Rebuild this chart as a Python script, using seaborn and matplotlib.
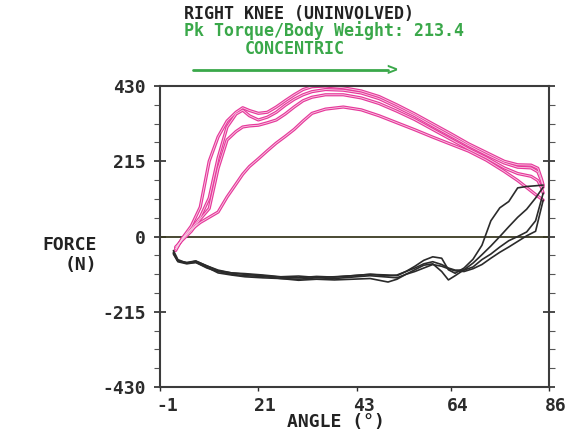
import matplotlib.pyplot as plt
import matplotlib.transforms as mtransforms
from matplotlib.ticker import MultipleLocator
import pandas as pd
import seaborn as sns

# extension (concentric) reps - pink
ext_angle = [2.5, 4, 6, 8, 10, 12, 14, 16, 17.5, 19, 21, 23, 25, 27, 29, 31, 33,
             36, 40, 44, 48, 52, 56, 60, 64, 68, 72, 76, 79, 82, 83.5, 84.3, 84.7]
ext_rep1 = [-40, -5, 30, 84, 215, 285, 330, 355, 368, 360, 352, 355, 370, 388, 405, 420, 428,
            430, 425, 416, 400, 376, 350, 322, 294, 265, 240, 215, 205, 204, 195, 165, 147]
ext_rep2 = [-35, -8, 22, 55, 110, 225, 313, 350, 361, 345, 333, 341, 355, 375, 392, 405, 414,
            420, 418, 410, 394, 370, 345, 316, 288, 260, 234, 210, 198, 196, 185, 160, 141]
ext_rep3 = [-30, -10, 15, 50, 80, 195, 276, 300, 313, 316, 318, 325, 333, 350, 370, 388, 398,
            405, 405, 396, 380, 358, 334, 306, 278, 250, 225, 196, 180, 172, 160, 140, 124]
ext_rep4 = [-35, -5, 20, 40, 55, 70, 113, 150, 178, 200, 222, 245, 267, 286, 306, 330, 352,
            364, 370, 362, 345, 325, 305, 284, 264, 244, 218, 186, 160, 130, 115, 108, 104]

# flexion return reps - black
flex_angle = [84.7, 83, 81, 79, 77, 75, 73, 71, 69, 67, 65, 63.5, 62, 60, 58, 56, 54,
              52, 50, 46, 42, 38, 34, 30, 26, 22, 18, 15, 12, 9.5, 7, 5, 3, 2]
flex_rep1 = [147, 145, 143, 139, 100, 82, 45, -25, -65, -90, -105, -95, -62, -58, -68, -85, -100,
             -110, -112, -108, -112, -116, -114, -118, -116, -112, -108, -104, -98, -84, -70, -74, -70, -45]
flex_rep2 = [141, 110, 78, 55, 28, 0, -27, -52, -76, -95, -112, -124, -100, -78, -82, -95, -108,
             -122, -130, -120, -122, -124, -122, -125, -120, -118, -115, -110, -104, -88, -74, -78, -72, -50]
flex_rep3 = [124, 45, 13, 0, -12, -30, -50, -66, -87, -96, -96, -90, -80, -72, -78, -90, -100,
             -112, -110, -108, -112, -115, -117, -113, -115, -110, -106, -104, -96, -84, -70, -76, -66, -40]
flex_rep4 = [104, 15, 2, -14, -30, -45, -62, -80, -92, -100, -98, -92, -85, -80, -90, -100, -108,
             -118, -116, -112, -116, -120, -118, -122, -120, -114, -112, -108, -100, -90, -74, -76, -70, -48]

y_ticks = [-430, -215, 0, 215, 430]
y_labels = ["-430", "-215", "0", "215", "430"]
x_ticks = [-1, 21, 43, 64, 86]

PINK = "#e6399b"
GREEN = "#3aa84a"
INK = "#2b2b2b"


def to_long(angle, reps):
    rows = []
    for rep, force in enumerate(reps, start=1):
        for a, f in zip(angle, force):
            rows.append((rep, a, f))
    return pd.DataFrame(rows, columns=["rep", "angle", "force"])


ext_df = to_long(ext_angle, [ext_rep1, ext_rep2, ext_rep3, ext_rep4])
flex_df = to_long(flex_angle, [flex_rep1, flex_rep2, flex_rep3, flex_rep4])

sns.set_theme(style="white")
plt.rcParams["font.family"] = ["DejaVu Sans Mono", "DejaVu Sans"]
plt.rcParams["font.weight"] = "bold"

fig = plt.figure(figsize=(5.82, 4.38), dpi=100)
ax = fig.add_axes([0.2749, 0.1164, 0.6684, 0.6872])

ax.axhline(0, color="#3a3a22", lw=1.3, zorder=1)

common = dict(x="angle", y="force", units="rep", estimator=None, sort=False, ax=ax, legend=False)
sns.lineplot(data=ext_df, color=PINK, lw=2.3, **common)
sns.lineplot(data=ext_df, color="#f8cde4", lw=0.6, **common)
sns.lineplot(data=flex_df, color=INK, lw=1.2, **common)

ax.set_xlim(-1, 86)
ax.set_ylim(-430, 430)
ax.set_xlabel("")
ax.set_ylabel("")

ax.set_yticks(y_ticks)
ax.set_yticklabels(y_labels)
ax.yaxis.set_minor_locator(MultipleLocator(53.75))
ax.set_xticks(x_ticks)
ax.set_xticklabels([str(t) for t in x_ticks])

ax.tick_params(axis="y", which="major", direction="inout", length=9, width=1.2,
               left=True, right=True, colors=INK, labelsize=13, pad=6)
ax.tick_params(axis="y", which="minor", direction="out", length=4, width=0.8,
               left=True, right=True, colors="#555555")
ax.tick_params(axis="x", which="major", direction="out", length=3, width=1,
               bottom=True, colors=INK, labelsize=13, pad=4)

offset = mtransforms.ScaledTranslation(7 / 100, 0, fig.dpi_scale_trans)
for lab in ax.get_xticklabels():
    lab.set_transform(lab.get_transform() + offset)

for side in ["left", "right", "top", "bottom"]:
    ax.spines[side].set_visible(True)
    ax.spines[side].set_color("#3c3c3c")
    ax.spines[side].set_linewidth(1.5)

W, H = 582, 438
fig.text(299 / W, 1 - 14 / H, "RIGHT KNEE (UNINVOLVED)", ha="center", va="center",
         fontsize=12, color="#222222", fontweight="bold")
fig.text(324 / W, 1 - 31 / H, "Pk Torque/Body Weight: 213.4", ha="center", va="center",
         fontsize=12, color=GREEN, fontweight="bold")
fig.text(295 / W, 1 - 49 / H, "CONCENTRIC", ha="center", va="center",
         fontsize=12, color=GREEN, fontweight="bold")
fig.add_artist(plt.Line2D([193 / W, 388 / W], [1 - 70 / H, 1 - 70 / H],
                          color=GREEN, lw=2))
fig.text(392 / W, 1 - 70 / H, ">", ha="center", va="center",
         fontsize=13, color=GREEN, fontweight="bold")

fig.text(97 / W, 1 - 245 / H, "FORCE", ha="right", va="center",
         fontsize=13, color="#222222", fontweight="bold")
fig.text(97 / W, 1 - 265 / H, "(N)", ha="right", va="center",
         fontsize=13, color="#222222", fontweight="bold")
fig.text(336 / W, 1 - 422 / H, "ANGLE (°)", ha="center", va="center",
         fontsize=13, color="#222222", fontweight="bold")

fig.savefig("out.png", dpi=100, facecolor="white")
